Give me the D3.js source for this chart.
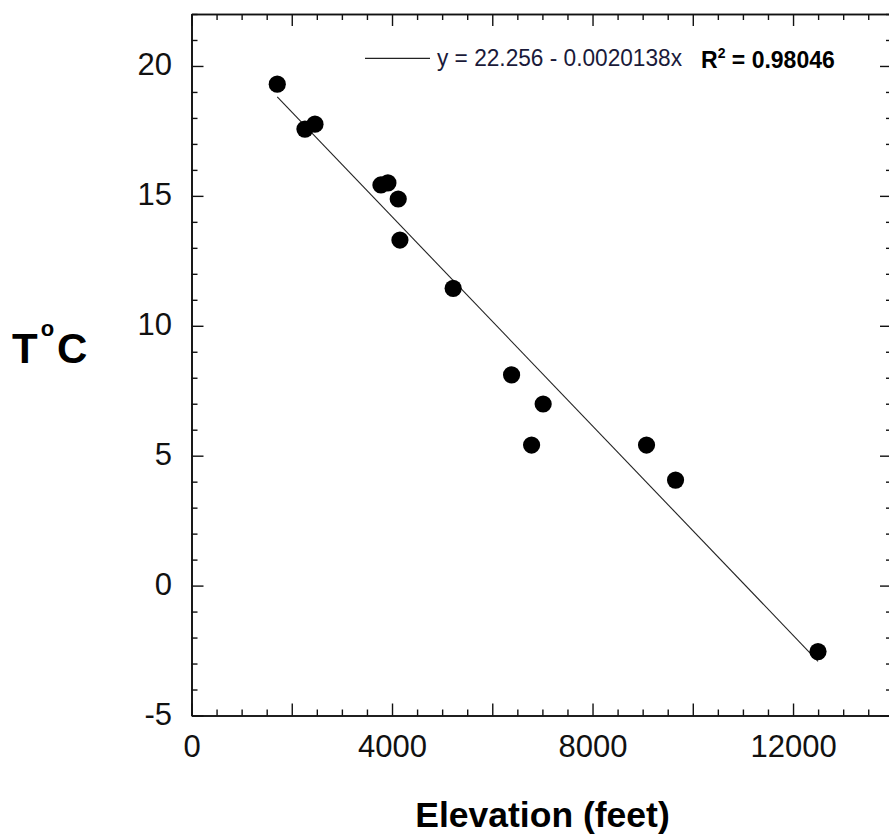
<!DOCTYPE html>
<html><head><meta charset="utf-8">
<script src="https://cdn.jsdelivr.net/npm/d3@7"></script>
<style>body{margin:0;background:#fff}svg{display:block}</style>
</head><body>
<svg id="c" width="889" height="835"></svg>
<script>
const elevation   = [1711, 2263, 2463, 3779, 3918, 4124, 4158, 5220, 6385, 6784, 7015, 9077, 9656, 12498];
const temperature = [19.30, 17.57, 17.76, 15.42, 15.50, 14.88, 13.30, 11.44, 8.11, 5.41, 6.99, 5.41, 4.06, -2.54];
const fitIntercept = 22.256;
const fitSlope = -0.0020138;
const fitLabel = "y = 22.256 - 0.0020138x";
const rSquared = "0.98046";
const xLabelTicks = [0, 4000, 8000, 12000];
const yLabelTicks = [-5, 0, 5, 10, 15, 20];
const xTitle = "Elevation (feet)";

const svg = d3.select("#c");
const font = "'Liberation Sans', Arial, sans-serif";
const x = d3.scaleLinear().domain([0, 14000]).range([191.5, 893.3]);
const y = d3.scaleLinear().domain([-5, 22]).range([715.5, 14]);
const X0 = x.range()[0], X1 = x.range()[1], Y0 = y.range()[0], Y1 = y.range()[1];

const xMajor = d3.range(0, 14001, 2000), xMinor = d3.range(0, 14001, 500).filter(v => v % 2000);
const yMajor = d3.range(-5, 22.01, 5), yMinor = d3.range(-5, 22.01, 1).filter(v => (v + 5) % 5);

function styleAxis(g) {
  g.selectAll("path.domain").attr("stroke", "#111").attr("stroke-width", 1.6);
  g.selectAll(".tick line").attr("stroke", "#111").attr("stroke-width", 1.4);
  g.selectAll(".tick text").attr("fill", "#111").style("font-family", font).style("font-size", "31px");
}

// bottom
svg.append("g").attr("transform", `translate(0,${Y0})`)
  .call(d3.axisBottom(x).tickValues(xMinor).tickSize(-6).tickSizeOuter(0).tickFormat("")).call(styleAxis);
const gb = svg.append("g").attr("transform", `translate(0,${Y0})`)
  .call(d3.axisBottom(x).tickValues(xMajor).tickSize(-12).tickSizeOuter(0)
    .tickFormat(d => xLabelTicks.includes(d) ? d3.format("d")(d) : "").tickPadding(0)).call(styleAxis);
gb.selectAll(".tick text").attr("dy", null).attr("y", 41.5);
// top
svg.append("g").attr("transform", `translate(0,${Y1})`)
  .call(d3.axisTop(x).tickValues(xMinor).tickSize(-6).tickSizeOuter(0).tickFormat("")).call(styleAxis);
svg.append("g").attr("transform", `translate(0,${Y1})`)
  .call(d3.axisTop(x).tickValues(xMajor).tickSize(-12).tickSizeOuter(0).tickFormat("")).call(styleAxis);
// left
svg.append("g").attr("transform", `translate(${X0},0)`)
  .call(d3.axisLeft(y).tickValues(yMinor).tickSize(-6).tickSizeOuter(0).tickFormat("")).call(styleAxis);
const gl = svg.append("g").attr("transform", `translate(${X0},0)`)
  .call(d3.axisLeft(y).tickValues(yMajor).tickSize(-12).tickSizeOuter(0)
    .tickFormat(d => yLabelTicks.includes(d) ? String(d) : "").tickPadding(19.5)).call(styleAxis);
gl.selectAll(".tick text").attr("dy", null).attr("y", 8.5);
// right
svg.append("g").attr("transform", `translate(${X1 - 1.3},0)`)
  .call(d3.axisRight(y).tickValues(yMinor).tickSize(-6).tickSizeOuter(0).tickFormat("")).call(styleAxis);
svg.append("g").attr("transform", `translate(${X1 - 1.3},0)`)
  .call(d3.axisRight(y).tickValues(yMajor).tickSize(-12).tickSizeOuter(0).tickFormat("")).call(styleAxis);

// regression line
const ext = d3.extent(elevation);
svg.append("line")
  .attr("x1", x(ext[0])).attr("y1", y(fitIntercept + fitSlope * ext[0]))
  .attr("x2", x(ext[1])).attr("y2", y(fitIntercept + fitSlope * ext[1]))
  .attr("stroke", "#222").attr("stroke-width", 1.1);

// points
svg.append("g").selectAll("circle").data(elevation.map((e, i) => [e, temperature[i]]))
  .join("circle").attr("cx", d => x(d[0])).attr("cy", d => y(d[1])).attr("r", 8.6).attr("fill", "#000");

// legend
svg.append("line").attr("x1", 365).attr("x2", 430).attr("y1", 58.3).attr("y2", 58.3)
  .attr("stroke", "#222").attr("stroke-width", 1.2);
svg.append("text").attr("x", 437).attr("y", 65.5).attr("fill", "#1a1a3a")
  .style("font-family", font).style("font-size", "24px")
  .attr("textLength", 245).attr("lengthAdjust", "spacingAndGlyphs").text(fitLabel);
const rt = svg.append("text").attr("x", 701).attr("y", 67.5).attr("fill", "#000")
  .style("font-family", font).style("font-size", "23px").style("font-weight", "bold");
rt.append("tspan").text("R");
rt.append("tspan").attr("dy", -10).style("font-size", "14px").text("2");
rt.append("tspan").attr("dy", 10).text(" = " + rSquared);

// y title
const yt = svg.append("text").attr("x", 12).attr("y", 363).attr("fill", "#000")
  .style("font-family", font).style("font-size", "42px").style("font-weight", "bold");
yt.append("tspan").text("T");
yt.append("tspan").attr("dy", -27).attr("dx", 3).style("font-size", "22px").text("o");
yt.append("tspan").attr("dy", 27).attr("dx", 3).text("C");

// x title
svg.append("text").attr("x", 542.5).attr("y", 827).attr("text-anchor", "middle").attr("fill", "#000")
  .style("font-family", font).style("font-size", "35.5px").style("font-weight", "bold").text(xTitle);
</script>
</body></html>
